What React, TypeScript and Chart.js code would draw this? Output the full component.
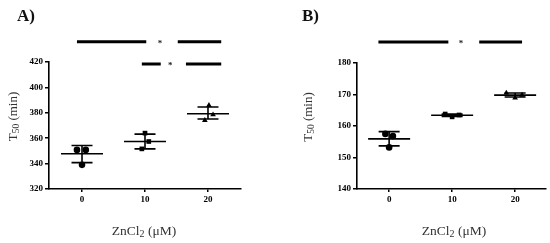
import React, { useEffect, useRef } from "react";
import { Chart, registerables } from "chart.js";
Chart.register(...registerables);

// ---------- data ----------
const doses = [0, 10, 20];
const xTickLabels = ["0", "10", "20"];
const pointStyles = ["circle", "rect", "triangle"];

// Panel A
const valuesA = [
  [350.8, 350.8, 339.0],
  [364.0, 357.4, 351.6],
  [385.9, 378.5, 374.0],
];
const jitterA = [
  [-0.8, 0.6, 0],
  [0.0, 0.6, -0.5],
  [0.15, 0.8, -0.5],
];
const meanA = [347.7, 357.4, 379.3];
const lowA = [340.8, 351.6, 375.1];
const highA = [354.2, 363.2, 384.6];
const yTicksA = [320, 340, 360, 380, 400, 420];

// Panel B
const valuesB = [
  [157.5, 156.8, 153.2],
  [163.8, 162.9, 163.5],
  [170.5, 168.9, 169.8],
];
const jitterB = [
  [-0.6, 0.6, 0],
  [-1.1, 0, 1.1],
  [-1.4, 0, 1.1],
];
const meanB = [155.9, 163.4, 169.8];
const lowB = [153.7, 163.0, 169.2];
const highB = [158.2, 163.8, 170.5];
const yTicksB = [140, 150, 160, 170, 180];

// significance brackets (data units)
const sigA = [
  { y: 436, left: [-0.8, 10.2], star: 12.4, right: [15.2, 22.1] },
  { y: 418.5, left: [9.5, 12.5], star: 14.0, right: [16.5, 22.1] },
];
const sigB = [{ y: 186.7, left: [-1.7, 9.4], star: 11.4, right: [14.3, 21.1] }];

// axis titles as [text, isSubscript] runs
const xTitleRuns: [string, boolean][] = [["ZnCl", false], ["2", true], [" (μM)", false]];
const yTitleRuns: [string, boolean][] = [["T", false], ["50", true], [" (min)", false]];

const SERIF = "'Liberation Serif', 'Times New Roman', serif";

type PanelCfg = {
  label: string;
  labelX: number;
  values: number[][];
  jitter: number[][];
  mean: number[];
  low: number[];
  high: number[];
  yTicks: number[];
  xMin: number;
  xMax: number;
  sig: { y: number; left: number[]; star: number; right: number[] }[];
  padLeft: number;
  padRight: number;
  padTop: number;
  yWidth: number;
  xHeight: number;
  xTitleX: number;
  yTitleX: number;
};

function drawRuns(ctx: CanvasRenderingContext2D, runs: [string, boolean][], cx: number, baseY: number, size: number, subSize: number) {
  const widths = runs.map(([t, sub]) => {
    ctx.font = `${sub ? subSize : size}px ${SERIF}`;
    return ctx.measureText(t).width;
  });
  const total = widths.reduce((a, b) => a + b, 0);
  let x = cx - total / 2;
  runs.forEach(([t, sub], i) => {
    ctx.font = `${sub ? subSize : size}px ${SERIF}`;
    ctx.fillText(t, x, sub ? baseY + size * 0.22 : baseY);
    x += widths[i];
  });
}

const makeOverlay = (cfg: PanelCfg) => ({
  id: "overlay",
  afterDatasetsDraw(chart: any) {
    const ctx = chart.ctx;
    const xs = chart.scales.x;
    const ys = chart.scales.y;
    ctx.save();
    ctx.strokeStyle = "#000";
    ctx.lineWidth = 1.6;
    doses.forEach((d, i) => {
      const cx = xs.getPixelForValue(d);
      const ym = ys.getPixelForValue(cfg.mean[i]);
      const yl = ys.getPixelForValue(cfg.low[i]);
      const yh = ys.getPixelForValue(cfg.high[i]);
      ctx.beginPath();
      ctx.moveTo(cx - 21, ym);
      ctx.lineTo(cx + 21, ym);
      ctx.moveTo(cx, yl);
      ctx.lineTo(cx, yh);
      ctx.moveTo(cx - 10.5, yl);
      ctx.lineTo(cx + 10.5, yl);
      ctx.moveTo(cx - 10.5, yh);
      ctx.lineTo(cx + 10.5, yh);
      ctx.stroke();
    });
    ctx.restore();
  },
  afterDraw(chart: any) {
    const ctx = chart.ctx;
    const xs = chart.scales.x;
    const ys = chart.scales.y;
    ctx.save();
    ctx.strokeStyle = "#000";
    ctx.lineWidth = 3;
    cfg.sig.forEach((s) => {
      const y = ys.getPixelForValue(s.y);
      ctx.beginPath();
      ctx.moveTo(xs.getPixelForValue(s.left[0]), y);
      ctx.lineTo(xs.getPixelForValue(s.left[1]), y);
      ctx.moveTo(xs.getPixelForValue(s.right[0]), y);
      ctx.lineTo(xs.getPixelForValue(s.right[1]), y);
      ctx.stroke();
      ctx.fillStyle = "#222";
      ctx.font = `bold 9px ${SERIF}`;
      ctx.textAlign = "center";
      ctx.textBaseline = "middle";
      ctx.fillText("*", xs.getPixelForValue(s.star), y + 2);
    });
    // panel label
    ctx.fillStyle = "#111";
    ctx.font = `bold 17px ${SERIF}`;
    ctx.textAlign = "left";
    ctx.textBaseline = "alphabetic";
    ctx.fillText(cfg.label, cfg.labelX, 21);
    // axis titles
    ctx.fillStyle = "#333";
    ctx.textAlign = "left";
    ctx.textBaseline = "alphabetic";
    drawRuns(ctx, xTitleRuns, cfg.xTitleX, 234.5, 13.5, 10);
    const cy = (chart.chartArea.top + chart.chartArea.bottom) / 2 - 9;
    ctx.translate(cfg.yTitleX, cy);
    ctx.rotate(-Math.PI / 2);
    drawRuns(ctx, yTitleRuns, 0, 4.5, 13, 9.5);
    ctx.restore();
  },
});

function Panel({ cfg }: { cfg: PanelCfg }) {
  const ref = useRef<HTMLCanvasElement>(null);
  useEffect(() => {
    if (!ref.current) return;
    const datasets = doses.map((d, i) => ({
      data: cfg.values[i].map((v, j) => ({ x: d + cfg.jitter[i][j], y: v })),
      pointStyle: pointStyles[i],
      pointRadius: 3.3,
      backgroundColor: "#000",
      borderColor: "#000",
      borderWidth: 0,
      showLine: false,
    }));
    const chart = new Chart(ref.current, {
      type: "scatter",
      data: { datasets } as any,
      options: {
        animation: false,
        responsive: false,
        devicePixelRatio: 1,
        layout: {
          padding: { left: cfg.padLeft, right: cfg.padRight, top: cfg.padTop, bottom: 0 },
        },
        plugins: { legend: { display: false }, tooltip: { enabled: false } },
        scales: {
          x: {
            type: "linear",
            min: cfg.xMin,
            max: cfg.xMax,
            afterBuildTicks: (s: any) => {
              s.ticks = doses.map((v) => ({ value: v }));
            },
            afterFit: (s: any) => {
              s.height = cfg.xHeight;
            },
            ticks: {
              color: "#000",
              font: { family: SERIF, size: 9, weight: "bold" },
              padding: 2,
              callback: (v: any) => xTickLabels[doses.indexOf(Number(v))] ?? "",
            },
            grid: { display: true, drawOnChartArea: false, drawTicks: true, tickLength: 3, color: "#000", lineWidth: 1.5 },
            border: { display: true, color: "#000", width: 1.6 },
            title: { display: false },
          },
          y: {
            type: "linear",
            min: cfg.yTicks[0],
            max: cfg.yTicks[cfg.yTicks.length - 1],
            afterBuildTicks: (s: any) => {
              s.ticks = cfg.yTicks.map((v) => ({ value: v }));
            },
            afterFit: (s: any) => {
              s.width = cfg.yWidth;
            },
            ticks: {
              color: "#000",
              font: { family: SERIF, size: 9, weight: "bold" },
              padding: 2,
            },
            grid: { display: true, drawOnChartArea: false, drawTicks: true, tickLength: 4, color: "#000", lineWidth: 1.5 },
            border: { display: true, color: "#000", width: 1.6 },
            title: { display: false },
          },
        },
      } as any,
      plugins: [makeOverlay(cfg)],
    });
    return () => chart.destroy();
  }, [cfg]);
  return <canvas ref={ref} width={275} height={243} style={{ display: "block" }} />;
}

const cfgA: PanelCfg = {
  label: "A)",
  labelX: 17,
  values: valuesA,
  jitter: jitterA,
  mean: meanA,
  low: lowA,
  high: highA,
  yTicks: yTicksA,
  xMin: -5.24,
  xMax: 25.24,
  sig: sigA,
  padLeft: 0,
  padRight: 34,
  padTop: 62,
  yWidth: 49,
  xHeight: 54,
  xTitleX: 144,
  yTitleX: 12,
};

const cfgB: PanelCfg = {
  label: "B)",
  labelX: 27,
  values: valuesB,
  jitter: jitterB,
  mean: meanB,
  low: lowB,
  high: highB,
  yTicks: yTicksB,
  xMin: -5.1,
  xMax: 24.9,
  sig: sigB,
  padLeft: 24,
  padRight: 4,
  padTop: 63,
  yWidth: 58,
  xHeight: 54,
  xTitleX: 179,
  yTitleX: 32,
};

export default function App() {
  return (
    <div
      style={{
        position: "absolute",
        left: 0,
        top: 0,
        width: 550,
        height: 243,
        display: "flex",
        background: "#fff",
      }}
    >
      <Panel cfg={cfgA} />
      <Panel cfg={cfgB} />
    </div>
  );
}
